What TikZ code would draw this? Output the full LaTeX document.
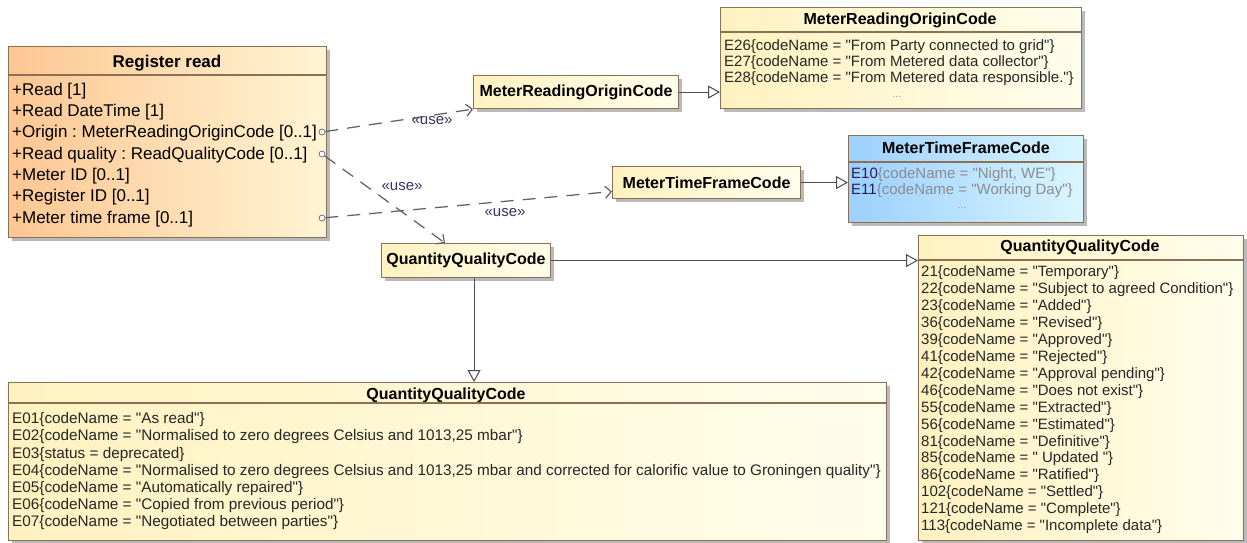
\documentclass[tikz,border=0pt]{standalone}
\usepackage{fontspec}
\setmainfont{Liberation Sans}[Ligatures=TeXOff] % keep straight quotes
\usetikzlibrary{arrows.meta,shadows}
\frenchspacing

\definecolor{clsline}{RGB}{140,112,84}
\definecolor{yelL}{RGB}{255,242,192}
\definecolor{yelR}{RGB}{255,254,236}
\definecolor{orL}{RGB}{253,198,146}
\definecolor{orR}{RGB}{255,245,212}
\definecolor{bluL}{RGB}{156,208,255}
\definecolor{bluR}{RGB}{218,246,255}
\definecolor{usecol}{RGB}{50,50,100}
\definecolor{enumcol}{RGB}{45,25,90}

\begin{document}
\begin{tikzpicture}[
        x=1pt, y=-1pt, % pixel grid, y downwards
        cls/.style={draw=clsline, line width=1.1pt, inner sep=0pt, anchor=north west,
            drop shadow={shadow xshift=3pt, shadow yshift=-3pt, fill=black!45, opacity=.6}},
        yel/.style={left color=yelL, right color=yelR},
        ora/.style={left color=orL, right color=orR},
        blu/.style={left color=bluL, right color=bluR},
        ttl/.style={font=\fontsize{16}{19}\selectfont\bfseries, inner sep=0pt, anchor=base},
        hdr/.style={draw=clsline, line width=1.1pt},
        lit/.style={font=\fontsize{15}{17}\selectfont, align=left, inner sep=0pt, anchor=north west, text=black!85},
        dots/.style={font=\fontsize{11}{13}\selectfont, text=black!40, inner sep=0pt, anchor=base},
        port/.style={circle, draw=black!55, fill=white, line width=.8pt, minimum size=6pt, inner sep=0pt},
        use/.style={draw=black!62, line width=1.25pt, dash pattern=on 13pt off 9pt,
            -{Straight Barb[length=6pt, width=12pt, line width=1.2pt]}},
        uselbl/.style={font=\fontsize{15}{17}\selectfont, text=usecol, inner sep=0pt},
        gen/.style={draw=black!70, line width=1pt, -{Triangle[open, length=12pt, width=13pt, fill=white]}},
    ]
    \useasboundingbox (0,0) rectangle (1247,542);

    % Register read
    \node[cls, ora, minimum width=318pt, minimum height=191pt] (rr) at (8,46) {};
    \node[ttl, font=\fontsize{17}{20}\selectfont\bfseries] (rrT) at (167,67) {Register read};
    \draw[hdr] ([yshift=-29pt]rr.north west) -- ([yshift=-29pt]rr.north east);
    \node[lit, text=black, font=\fontsize{17}{21.3}\selectfont] (rrA) at (12,81) {\rule{0pt}{14pt}+Read [1]\\
        +Read DateTime [1]\\
        +Origin : MeterReadingOriginCode [0..1]\\
        +Read quality : ReadQualityCode [0..1]\\
        +Meter ID [0..1]\\
        +Register ID [0..1]\\
        +Meter time frame [0..1]};
    \node[port] (pOrigin) at (322,132) {};
    \node[port] (pQuality) at (322,154) {};
    \node[port] (pFrame) at (322,218) {};

    % MeterReadingOriginCode
    \node[cls, yel, minimum width=205pt, minimum height=33pt, font=\fontsize{16}{19}\selectfont\bfseries] (mroU) at (473,75) {MeterReadingOriginCode};
    \node[cls, yel, minimum width=361pt, minimum height=101pt] (mro) at (720,7) {};
    \node[ttl] (mroT) at (900,24.7) {MeterReadingOriginCode};
    \draw[hdr] ([yshift=-25pt]mro.north west) -- ([yshift=-25pt]mro.north east);
    \node[lit, font=\fontsize{15}{16}\selectfont] (mroL) at (724,38.5) {\rule{0pt}{12pt}E26\{codeName = "From Party connected to grid"\}\\
        E27\{codeName = "From Metered data collector"\}\\
        E28\{codeName = "From Metered data responsible."\}};
    \node[dots] (mroD) at (897,97) {...};

    % MeterTimeFrameCode
    \node[cls, yel, minimum width=188pt, minimum height=32pt, font=\fontsize{16}{19}\selectfont\bfseries] (mtfU) at (612,166) {MeterTimeFrameCode};
    \node[cls, blu, minimum width=235pt, minimum height=87pt] (mtf) at (848,135) {};
    \node[ttl] (mtfT) at (966,153.7) {MeterTimeFrameCode};
    \draw[hdr] ([yshift=-27pt]mtf.north west) -- ([yshift=-27pt]mtf.north east);
    \node[lit, font=\fontsize{15}{16}\selectfont] (mtfL) at (851,166.5) {\rule{0pt}{12pt}\textcolor{enumcol}{E10}\textcolor{black!45}{\{codeName = "Night, WE"\}}\\
        \textcolor{enumcol}{E11}\textcolor{black!45}{\{codeName = "Working Day"\}}};
    \node[dots] (mtfD) at (962,208) {...};

    % QuantityQualityCode
    \node[cls, yel, minimum width=169pt, minimum height=34pt, font=\fontsize{16}{19}\selectfont\bfseries] (qqcU) at (381,243) {QuantityQualityCode};
    \node[cls, yel, minimum width=325pt, minimum height=305pt] (qqcR) at (918,235) {};
    \node[ttl] (qqcRT) at (1080,251.7) {QuantityQualityCode};
    \draw[hdr] ([yshift=-25pt]qqcR.north west) -- ([yshift=-25pt]qqcR.north east);
    \node[lit, font=\fontsize{15}{16.93}\selectfont] (qqcRL) at (921,264.5) {\rule{0pt}{12pt}21\{codeName = "Temporary"\}\\
        22\{codeName = "Subject to agreed Condition"\}\\
        23\{codeName = "Added"\}\\
        36\{codeName = "Revised"\}\\
        39\{codeName = "Approved"\}\\
        41\{codeName = "Rejected"\}\\
        42\{codeName = "Approval pending"\}\\
        46\{codeName = "Does not exist"\}\\
        55\{codeName = "Extracted"\}\\
        56\{codeName = "Estimated"\}\\
        81\{codeName = "Definitive"\}\\
        85\{codeName = "\ Updated "\}\\
        86\{codeName = "Ratified"\}\\
        102\{codeName = "Settled"\}\\
        121\{codeName = "Complete"\}\\
        113\{codeName = "Incomplete data"\}};
    \node[cls, yel, minimum width=878pt, minimum height=158pt] (qqcB) at (8,382) {};
    \node[ttl] (qqcBT) at (446,399.7) {QuantityQualityCode};
    \draw[hdr] ([yshift=-21pt]qqcB.north west) -- ([yshift=-21pt]qqcB.north east);
    \node[lit, font=\fontsize{15.3}{17.2}\selectfont] (qqcBL) at (12,411.5) {\rule{0pt}{12pt}E01\{codeName = "As read"\}\\
        E02\{codeName = "Normalised to zero degrees Celsius and 1013,25 mbar"\}\\
        E03\{status = deprecated\}\\
        E04\{codeName = "Normalised to zero degrees Celsius and 1013,25 mbar and corrected for calorific value to Groningen quality"\}\\
        E05\{codeName = "Automatically repaired"\}\\
        E06\{codeName = "Copied from previous period"\}\\
        E07\{codeName = "Negotiated between parties"\}};

    % dependencies
    \draw[use] (pOrigin) -- (mroU.south west);
    \draw[use] (pQuality) -- ([xshift=64pt]qqcU.north west);
    \draw[use] (pFrame) -- ([yshift=-9pt]mtfU.west);
    \node[uselbl] (use1) at (432,121) {«use»};
    \node[uselbl] (use2) at (402,187) {«use»};
    \node[uselbl] (use3) at (505,213) {«use»};

    % generalizations
    \draw[gen] (mroU.east) -- (mroU.east -| mro.west);
    \draw[gen] (mtfU.east) -- (mtfU.east -| mtf.west);
    \draw[gen] (qqcU.east) -- (qqcU.east -| qqcR.west);
    \draw[gen] ([xshift=8pt]qqcU.south) -- ([xshift=8pt]qqcU.south |- qqcB.north);
\end{tikzpicture}
\end{document}
